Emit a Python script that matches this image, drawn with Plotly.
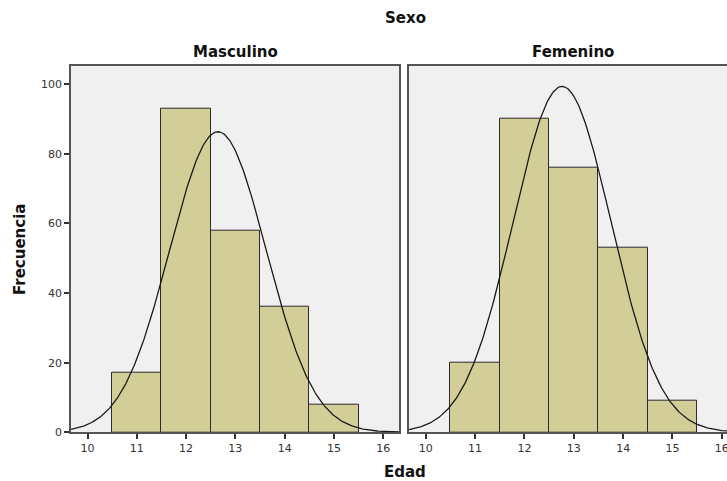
import numpy as np
import plotly.graph_objects as go

# ---- data ----
edad = [11, 12, 13, 14, 15]
masculino = [17, 93, 58, 36, 8]
femenino = [20, 90, 76, 53, 9]
panel_names = ["Masculino", "Femenino"]
y_ticks = [0, 20, 40, 60, 80, 100]
x_ticks = [10, 11, 12, 13, 14, 15, 16]

BAR_FILL = "#D3CE97"
PLOT_BG = "#F0F0F0"
FONT = "DejaVu Sans"


def normal_curve(xs, counts, x0, x1):
    xs = np.asarray(xs, float)
    c = np.asarray(counts, float)
    n = c.sum()
    m = (xs * c).sum() / n
    sd = np.sqrt((c * (xs - m) ** 2).sum() / (n - 1))
    gx = np.linspace(x0, x1, 300)
    gy = n * 1.0 / (sd * np.sqrt(2 * np.pi)) * np.exp(-0.5 * ((gx - m) / sd) ** 2)
    return gx, gy


fig = go.Figure()

x_ranges = [[9.665, 16.32], [9.66, 16.105]]
for i, (vals, xr) in enumerate(zip([masculino, femenino], x_ranges)):
    xa = "x" if i == 0 else "x2"
    ya = "y" if i == 0 else "y2"
    fig.add_trace(go.Bar(x=edad, y=vals, width=1, xaxis=xa, yaxis=ya,
                         marker=dict(color=BAR_FILL, line=dict(color="#2b2b2b", width=1)),
                         showlegend=False))
    gx, gy = normal_curve(edad, vals, xr[0], xr[1] + 0.3)
    fig.add_trace(go.Scatter(x=gx, y=gy, mode="lines", xaxis=xa, yaxis=ya,
                             line=dict(color="#1a1a1a", width=1.3), showlegend=False,
                             cliponaxis=True))

common_x = dict(tickvals=x_ticks, ticks="outside", ticklen=5, tickwidth=1.5,
                tickcolor="#333", showgrid=False, zeroline=False, automargin=False,
                showline=True, linecolor="#555", linewidth=1.5, mirror=True,
                ticklabeloverflow="allow",
                tickfont=dict(family=FONT, size=11, color="#333"))
common_y = dict(range=[0, 105.3], ticks="outside", ticklen=5, automargin=False,
                tickwidth=1.5, tickcolor="#333", showgrid=False, zeroline=False,
                showline=True, linecolor="#555", linewidth=1.5,
                tickfont=dict(family=FONT, size=11, color="#333"))

ydom = [(481 - 432.3) / 481, (481 - 65.7) / 481]
fig.update_layout(
    width=727, height=481,
    margin=dict(l=0, r=0, t=0, b=0, autoexpand=False),
    paper_bgcolor="white",
    plot_bgcolor=PLOT_BG,
    bargap=0,
    xaxis=dict(domain=[71 / 727, 399 / 727], range=x_ranges[0], anchor="y", **common_x),
    yaxis=dict(domain=ydom, anchor="x", mirror=True, tickvals=y_ticks, **common_y),
    xaxis2=dict(domain=[409 / 727, 1.0], range=x_ranges[1], anchor="y2", **common_x),
    yaxis2=dict(domain=ydom, anchor="x2", mirror=False, showticklabels=False,
                tickvals=[], **common_y),
    font=dict(family=FONT, color="#000"),
)

title_font = dict(family=FONT, size=15, color="#111")
annots = [
    dict(text="<b>Sexo</b>", x=405 / 727, y=1 - 18 / 481),
    dict(text="<b>" + panel_names[0] + "</b>", x=235 / 727, y=1 - 52 / 481),
    dict(text="<b>" + panel_names[1] + "</b>", x=573 / 727, y=1 - 52 / 481),
    dict(text="<b>Edad</b>", x=405 / 727, y=1 - 472 / 481),
]
for a in annots:
    fig.add_annotation(xref="paper", yref="paper", showarrow=False,
                       xanchor="center", yanchor="middle", font=title_font, **a)
fig.add_annotation(text="<b>Frecuencia</b>", xref="paper", yref="paper",
                   x=20 / 727, y=1 - 250 / 481, showarrow=False, textangle=-90,
                   xanchor="center", yanchor="middle", font=title_font)

fig.write_html("out.html", config={"displayModeBar": False},
               post_script="document.body.style.margin='0';")
